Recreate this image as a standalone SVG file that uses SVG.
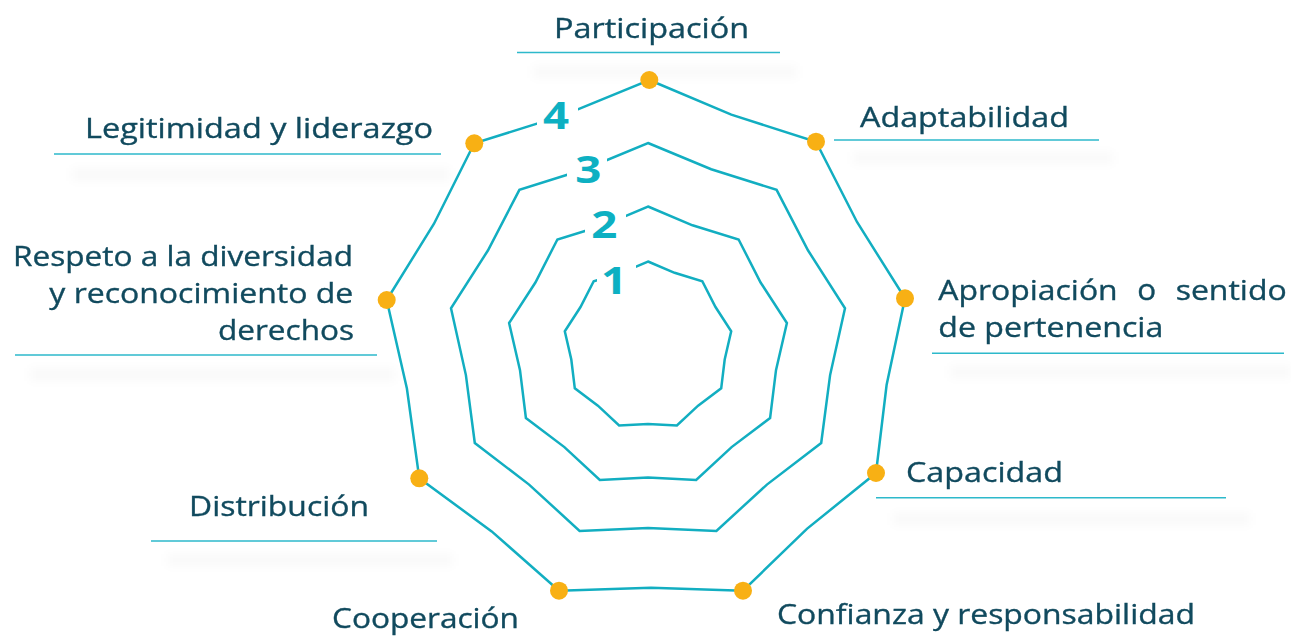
<svg xmlns="http://www.w3.org/2000/svg" width="1291" height="642" viewBox="0 0 1291 642">
<defs>
<style>
.ring{fill:none;stroke:#12AEC1;stroke-width:2.5;stroke-linejoin:miter}
.lbl{font-family:"Open Sans","Noto Sans","Liberation Sans",sans-serif;font-size:28px;fill:#114A5E;stroke:#114A5E;stroke-width:0.35}
.num{font-family:"Open Sans","Noto Sans","Liberation Sans",sans-serif;font-size:38px;font-weight:700;fill:#0DB0C2;text-anchor:middle}
.ul{stroke:#2DB9CB;stroke-width:1.6}
.sh{fill:#000;opacity:0.022}
.dot{fill:#F8B014}
.gap{fill:#fff}
</style>
<filter id="blur" x="-10%" y="-150%" width="120%" height="400%"><feGaussianBlur stdDeviation="5"/></filter>
</defs>
<rect width="1291" height="642" fill="#fff"/>

<g id="connectors">
<polygon id="ring4" class="ring" points="649.3,80 731.3,114.7 816,141.7 857,222 905,298.3 886.6,385 876,473 806.9,528.9 743,590.7 651,587.7 559,590.7 491.7,531.4 419.3,478.3 406.9,388.5 386.7,300 434,223.7 474.3,143.3 563.2,115.4"/>
<polygon id="ring3" class="ring" points="648,143 711.2,169.2 776.6,189.8 808.1,250.5 845,308.3 830.1,375.1 821.2,443 766.9,484.6 716.4,530.9 648,527.9 579.6,530.9 529.1,484.6 474.8,443 465.9,375.1 451,308.3 487.9,250.5 519.4,189.8 584.8,169.2"/>
<polygon id="ring2" class="ring" points="648,206.5 692.5,225.3 738.6,239.5 760.6,282.5 786.9,323 776,370.1 770.1,418 731.6,447.1 696.2,480 648,477.5 599.8,480 564.4,447.1 525.9,418 520,370.1 509.1,323 535.4,282.5 557.4,239.5 603.5,225.3"/>
<polygon id="ring1" class="ring" points="648,261.5 674.6,272.8 702.3,281.3 715.5,307 731.2,331.3 724.7,359.5 721.2,388.3 698.1,405.7 676.9,425.4 648,423.9 619.1,425.4 597.9,405.7 574.8,388.3 571.3,359.5 564.8,331.3 580.5,307 593.7,281.3 621.4,272.8"/>
<rect class="gap" x="537" y="99" width="41" height="34"/>
<rect class="gap" x="567" y="150" width="40" height="36"/>
<rect class="gap" x="585" y="207" width="41" height="35"/>
<rect class="gap" x="597" y="261" width="39" height="37"/>
</g>

<g id="scale">
<text class="num" transform="translate(556,129.3) scale(1.2,1)">4</text>
<text class="num" transform="translate(588.3,182.7) scale(1.2,1)">3</text>
<text class="num" transform="translate(604.3,238.3) scale(1.2,1)">2</text>
<text class="num" transform="translate(614,294.3) scale(1.2,1)">1</text>
</g>

<g id="shadows" filter="url(#blur)">
<rect class="sh" x="533" y="66" width="264" height="12"/>
<rect class="sh" x="853" y="152" width="260" height="12"/>
<rect class="sh" x="950" y="366" width="341" height="12"/>
<rect class="sh" x="893" y="513" width="357" height="12"/>
<rect class="sh" x="167" y="554" width="286" height="12"/>
<rect class="sh" x="30" y="368" width="365" height="13"/>
<rect class="sh" x="72" y="168" width="378" height="13"/>
</g>

<g id="node-participacion">
<circle class="dot" cx="649.3" cy="80" r="9"/>
<text class="lbl" x="554" y="38" textLength="195" lengthAdjust="spacingAndGlyphs">Participación</text>
<line class="ul" x1="517" y1="52.5" x2="780" y2="52.5"/>
</g>

<g id="node-adaptabilidad">
<circle class="dot" cx="816" cy="141.7" r="9"/>
<text class="lbl" x="860" y="127.3" textLength="209" lengthAdjust="spacingAndGlyphs">Adaptabilidad</text>
<line class="ul" x1="834" y1="140" x2="1099" y2="140"/>
</g>

<g id="node-apropiacion">
<circle class="dot" cx="905" cy="298.3" r="9"/>
<text class="lbl" x="938.3" y="300" textLength="179.4" lengthAdjust="spacingAndGlyphs">Apropiación</text>
<text class="lbl" text-anchor="middle" transform="translate(1146.7,300) scale(1.12,1.06)">o</text>
<text class="lbl" x="1175.7" y="300" textLength="111" lengthAdjust="spacingAndGlyphs">sentido</text>
<text class="lbl" x="938.3" y="336.7" textLength="225" lengthAdjust="spacingAndGlyphs">de pertenencia</text>
<line class="ul" x1="932" y1="353.3" x2="1284" y2="353.3"/>
</g>

<g id="node-capacidad">
<circle class="dot" cx="876" cy="473" r="9"/>
<text class="lbl" x="906" y="481.7" textLength="157" lengthAdjust="spacingAndGlyphs">Capacidad</text>
<line class="ul" x1="876" y1="497.7" x2="1226" y2="497.7"/>
</g>

<g id="node-confianza">
<circle class="dot" cx="743" cy="590.7" r="9"/>
<text class="lbl" x="777" y="624" textLength="418" lengthAdjust="spacingAndGlyphs">Confianza y responsabilidad</text>
</g>

<g id="node-cooperacion">
<circle class="dot" cx="559" cy="590.7" r="9"/>
<text class="lbl" x="332" y="628.3" textLength="187" lengthAdjust="spacingAndGlyphs">Cooperación</text>
</g>

<g id="node-distribucion">
<circle class="dot" cx="419.3" cy="478.3" r="9"/>
<text class="lbl" x="189" y="516" textLength="180" lengthAdjust="spacingAndGlyphs">Distribución</text>
<line class="ul" x1="151" y1="541" x2="437" y2="541"/>
</g>

<g id="node-respeto">
<circle class="dot" cx="386.7" cy="300" r="9"/>
<text class="lbl" x="13" y="266" textLength="340" lengthAdjust="spacingAndGlyphs">Respeto a la diversidad</text>
<text class="lbl" x="49.3" y="303" textLength="304" lengthAdjust="spacingAndGlyphs">y reconocimiento de</text>
<text class="lbl" x="218" y="340" textLength="136" lengthAdjust="spacingAndGlyphs">derechos</text>
<line class="ul" x1="15" y1="355" x2="377" y2="355"/>
</g>

<g id="node-legitimidad">
<circle class="dot" cx="474.3" cy="143.3" r="9"/>
<text class="lbl" x="85" y="138" textLength="348" lengthAdjust="spacingAndGlyphs">Legitimidad y liderazgo</text>
<line class="ul" x1="54" y1="154" x2="441" y2="154"/>
</g>
</svg>
